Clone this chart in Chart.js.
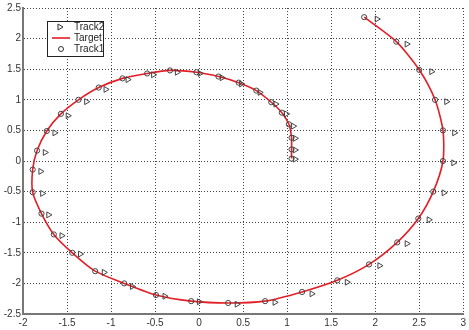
<!DOCTYPE html>
<html>
<head>
<meta charset="utf-8">
<script src="https://cdn.jsdelivr.net/npm/chart.js@4/dist/chart.umd.min.js"></script>
<style>
  html, body { margin: 0; padding: 0; background: #fff; }
  #wrap { width: 469px; height: 330px; }
</style>
</head>
<body>
<div id="wrap"><canvas id="c" width="469" height="330"></canvas></div>
<script>
// Track1 (circles)
var track1X = [1.05, 1.05, 1.05, 1.02, 0.94, 0.82, 0.65, 0.45, 0.22, -0.03, -0.33, -0.59, -0.87, -1.14, -1.37, -1.57, -1.73, -1.84, -1.89, -1.89, -1.79, -1.65, -1.44, -1.18, -0.85, -0.49, -0.09, 0.33, 0.75, 1.17, 1.57, 1.93, 2.25, 2.49, 2.66, 2.77, 2.77, 2.68, 2.50, 2.24, 1.875];
var track1Y = [0.04, 0.19, 0.38, 0.60, 0.79, 0.96, 1.15, 1.28, 1.38, 1.45, 1.48, 1.43, 1.35, 1.20, 1.00, 0.77, 0.49, 0.17, -0.14, -0.51, -0.86, -1.20, -1.50, -1.80, -2.00, -2.19, -2.29, -2.32, -2.29, -2.14, -1.95, -1.69, -1.33, -0.94, -0.50, 0.00, 0.50, 1.00, 1.49, 1.95, 2.35];

// Track2 (triangles)
var track2X = [1.09, 1.09, 1.09, 1.07, 0.99, 0.87, 0.69, 0.48, 0.26, 0.01, -0.25, -0.52, -0.81, -1.06, -1.28, -1.49, -1.64, -1.75, -1.80, -1.78, -1.71, -1.56, -1.35, -1.08, -0.76, -0.39, 0.00, 0.43, 0.86, 1.28, 1.68, 2.05, 2.36, 2.61, 2.78, 2.89, 2.90, 2.81, 2.64, 2.36, 2.02];
var track2Y = [0.03, 0.18, 0.37, 0.57, 0.77, 0.93, 1.12, 1.26, 1.36, 1.43, 1.45, 1.41, 1.33, 1.17, 0.97, 0.74, 0.46, 0.14, -0.17, -0.53, -0.88, -1.22, -1.52, -1.82, -2.05, -2.21, -2.30, -2.34, -2.31, -2.17, -1.98, -1.71, -1.35, -0.96, -0.52, -0.03, 0.46, 0.97, 1.46, 1.91, 2.32];

// Target path (goes through the Track1 points)
var targetX = track1X;
var targetY = track1Y;

var xTicks = [-2, -1.5, -1, -0.5, 0, 0.5, 1, 1.5, 2, 2.5, 3];
var yTicks = [-2.5, -2, -1.5, -1, -0.5, 0, 0.5, 1, 1.5, 2, 2.5];

function pts(xs, ys) {
    return xs.map(function (x, i) { return {x: x, y: ys[i]}; });
}

var FONT = "'Liberation Sans', Arial, sans-serif";
var RED = "rgb(228,30,38)";

// legend drawn inside the plot, like the original
var boxLegend = {
    id: 'boxLegend',
    afterDraw: function (chart) {
        var ctx = chart.ctx;
        ctx.save();
        ctx.fillStyle = '#fff';
        ctx.fillRect(47, 21, 56, 35);
        ctx.strokeStyle = '#222';
        ctx.lineWidth = 1;
        ctx.strokeRect(47.5, 21.5, 56, 35);
        ctx.font = "10px " + FONT;
        ctx.fillStyle = '#222';
        ctx.textBaseline = 'middle';
        ctx.fillText('Track2', 74, 27);
        ctx.fillText('Target', 74, 38);
        ctx.fillText('Track1', 74, 49);
        // triangle
        ctx.strokeStyle = '#333';
        ctx.beginPath();
        ctx.moveTo(58, 24); ctx.lineTo(63, 27); ctx.lineTo(58, 30); ctx.closePath();
        ctx.stroke();
        // line
        ctx.strokeStyle = RED;
        ctx.lineWidth = 1.6;
        ctx.beginPath(); ctx.moveTo(52, 38); ctx.lineTo(70, 38); ctx.stroke();
        // circle
        ctx.strokeStyle = '#333';
        ctx.lineWidth = 1;
        ctx.beginPath(); ctx.arc(61, 49, 2.5, 0, Math.PI * 2); ctx.stroke();
        ctx.restore();
    }
};

var gridOpts = { color: '#444', lineWidth: 1, drawTicks: false };

new Chart(document.getElementById('c'), {
    type: 'scatter',
    data: {
        datasets: [
            {
                label: 'Target',
                data: pts(targetX, targetY),
                showLine: true,
                borderColor: RED,
                borderWidth: 1.6,
                tension: 0.25,
                pointRadius: 0,
                order: 3
            },
            {
                label: 'Track1',
                data: pts(track1X, track1Y),
                pointStyle: 'circle',
                pointRadius: 2.6,
                borderColor: '#444',
                backgroundColor: 'rgba(0,0,0,0)',
                borderWidth: 1,
                order: 2
            },
            {
                label: 'Track2',
                data: pts(track2X, track2Y),
                pointStyle: 'triangle',
                rotation: 90,
                pointRadius: 3.4,
                borderColor: '#444',
                backgroundColor: 'rgba(0,0,0,0)',
                borderWidth: 1,
                order: 1
            }
        ]
    },
    options: {
        responsive: false,
        animation: false,
        events: [],
        layout: { padding: { top: 7, right: 5, left: 0, bottom: 0 } },
        plugins: { legend: { display: false }, tooltip: { enabled: false } },
        scales: {
            x: {
                type: 'linear',
                min: -2, max: 3,
                afterBuildTicks: function (s) { s.ticks = xTicks.map(function (v) { return {value: v}; }); },
                afterFit: function (s) { s.height = 16; },
                grid: gridOpts,
                border: { display: true, color: '#777', width: 2, dash: [1, 2] },
                ticks: { color: '#333', font: { family: FONT, size: 10 }, padding: 3, maxRotation: 0,
                         autoSkip: false, callback: function (v) { return String(v); } }
            },
            y: {
                type: 'linear',
                min: -2.5, max: 2.5,
                afterBuildTicks: function (s) { s.ticks = yTicks.map(function (v) { return {value: v}; }); },
                afterFit: function (s) { s.width = 23; },
                grid: gridOpts,
                border: { display: true, color: '#777', width: 2, dash: [1, 2] },
                ticks: { color: '#333', font: { family: FONT, size: 10 }, padding: 2,
                         autoSkip: false, callback: function (v) { return String(v); } }
            }
        }
    },
    plugins: [boxLegend]
});
</script>
</body>
</html>
